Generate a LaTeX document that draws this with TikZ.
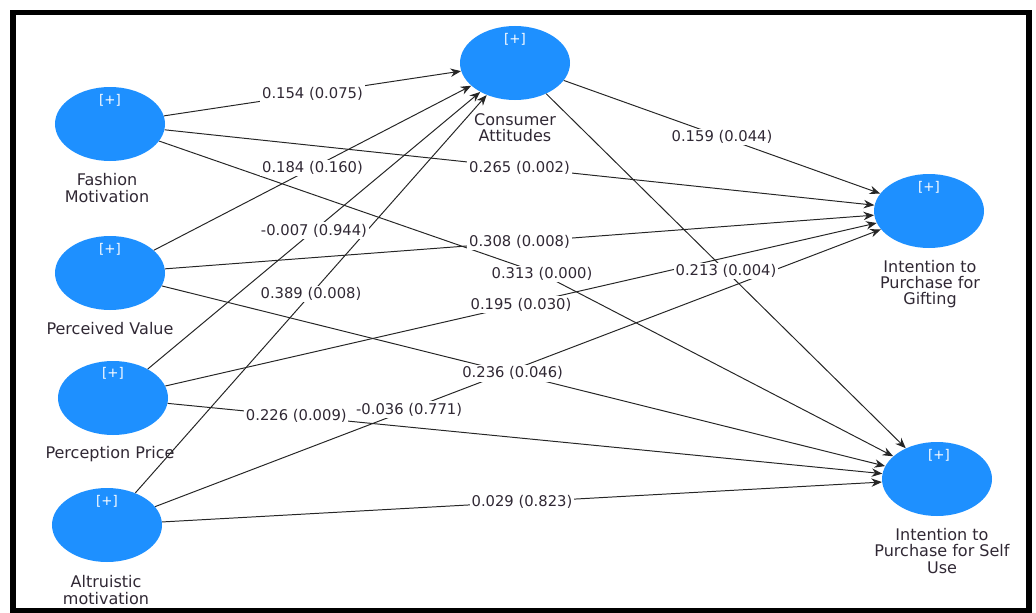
\documentclass[tikz,border=0pt]{standalone}
\usepackage{fontspec}
\setmainfont{DejaVu Sans}
\usetikzlibrary{arrows.meta,shapes.geometric}
\definecolor{lvblue}{RGB}{30,144,255}
\definecolor{txtgray}{RGB}{48,40,52}
\tikzset{lv/.style={ellipse,fill=lvblue,minimum width=27.5mm,minimum height=18.5mm,inner sep=0pt},
  plus/.style={text=white,font=\fontsize{9.5}{10}\selectfont,inner sep=0pt},
  lvname/.style={align=center,text=txtgray,font=\fontsize{11.4}{11.5}\selectfont,inner sep=0pt},
  link/.style={draw=black!85,line width=0.7pt,-{Stealth[length=7.5pt,width=6pt]}},
  coef/.style={fill=white,text=txtgray,font=\fontsize{10.5}{12}\selectfont,inner sep=1.2pt}}

\begin{document}
\begin{tikzpicture}[x=0.25mm,y=-0.25mm]
\useasboundingbox (0,0) rectangle (1036,613);
\draw[line width=4pt] (13,12.5) rectangle (1029,611);

% latent variables
\node[lv] (ca) at (515,63) {};
\node[lv] (fm) at (110,124) {};
\node[lv] (pv) at (110,273) {};
\node[lv] (pp) at (113,398) {};
\node[lv] (am) at (107,525) {};
\node[lv] (ig) at (929,211) {};
\node[lv] (is) at (937,479) {};

\foreach \n/\x/\y in {ca/515/39, fm/110/100, pv/110/249, pp/113/373, am/107/501, ig/929/187, is/939/455}
  \node[plus] (\n p) at (\x,\y) {[+]};

\node[lvname] (catxt) at (515,128) {Consumer\\Attitudes};
\node[lvname] (fmtxt) at (107,188) {Fashion\\Motivation};
\node[lvname] (pvtxt) at (110,329) {Perceived Value};
\node[lvname] (pptxt) at (110,454) {Perception Price};
\node[lvname] (amtxt) at (106,590) {Altruistic\\motivation};
\node[lvname] (igtxt) at (930,284) {Intention to\\Purchase for\\Gifting};
\node[lvname] (istxt) at (942,551) {Intention to\\Purchase for Self\\Use};

% paths
\foreach \s/\t/\p/\c in {fm/ca/.5/c1, pv/ca/.5/c2, pp/ca/.5/c3, am/ca/.5/c4,
    fm/ig/.5/c5, pv/ig/.5/c6, pp/ig/.5/c7, am/ig/.35/c8, ca/ig/.5/c9,
    ca/is/.5/c10, pv/is/.485/c11, pp/is/.18/c12, am/is/.5/c13}
  \draw[link] (\s) -- coordinate[pos=\p] (\c) (\t);
\coordinate (c14) at (542,274);
\draw[link] (fm) -- (c14) -- (is);

% coefficients (p values)
\foreach \c/\v in {c1/{0.154 (0.075)}, c2/{0.184 (0.160)}, c3/{-0.007 (0.944)},
    c4/{0.389 (0.008)}, c5/{0.265 (0.002)}, c6/{0.308 (0.008)}, c7/{0.195 (0.030)},
    c8/{-0.036 (0.771)}, c9/{0.159 (0.044)}, c10/{0.213 (0.004)}, c11/{0.236 (0.046)},
    c12/{0.226 (0.009)}, c13/{0.029 (0.823)}, c14/{0.313 (0.000)}}
  \node[coef] (k\c) at (\c) {\v};
\end{tikzpicture}
\end{document}
